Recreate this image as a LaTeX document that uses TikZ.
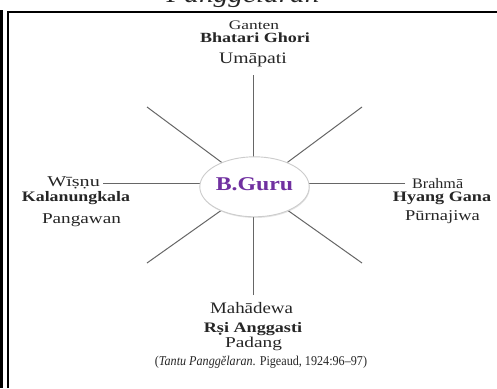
\documentclass[tikz,border=0pt]{standalone}
\usepackage{fontspec}
\setmainfont{Liberation Serif}
\usetikzlibrary{shapes.geometric,shadows,backgrounds}
\definecolor{gurupurple}{HTML}{7030A0}
\definecolor{txtgray}{HTML}{262626}
\newcommand{\fsz}[1]{\fontsize{#1}{#1}\selectfont}
\newcommand{\sx}[2]{\scalebox{#1}[1]{#2}}
\begin{document}
\begin{tikzpicture}[x=1pt,y=-1pt,
  lbl/.style={anchor=base,inner sep=0pt,text=txtgray},
  spoke/.style={draw=black!60,line width=1pt},
  centre/.style={ellipse,draw=black!20,line width=0.9pt,fill=white,
    minimum width=82pt,minimum height=60pt,inner sep=0pt,
    text height=11pt,text depth=4pt,
    drop shadow={opacity=0.2,shadow xshift=0.6pt,shadow yshift=-1.2pt}}]
\useasboundingbox (0,0) rectangle (497,388);
% title (cut off at the top)
\node[lbl] (title) at (243,2.5) {\fsz{24}\itshape\sx{1.22}{Panggĕlaran}};
% frame
\draw[line width=3pt] (1.6,10) -- (1.6,388);
\draw[line width=2pt] (8,388) -- (8,12) -- (497,12);
% centre
\node[centre] (guru) at (254.5,186.8) {\fsz{19.5}\bfseries\color{gurupurple}\sx{1.22}{B.Guru}};
% top
\node[lbl] (ganten) at (254,29.5) {\fsz{13}\sx{1.34}{Ganten}};
\node[lbl] (bhatari) at (255,42.3) {\fsz{14}\bfseries\sx{1.29}{Bhatari Ghori}};
\node[lbl] (umapati) at (253,63.3) {\fsz{16}\sx{1.23}{Umāpati}};
% left
\node[lbl,anchor=base east] (wisnu) at (100,186.7) {\fsz{15}\sx{1.34}{Wīṣṇu}};
\node[lbl] (kalan) at (76,201.7) {\fsz{14.5}\bfseries\sx{1.23}{Kalanungkala}};
\node[lbl] (pangawan) at (81.5,223) {\fsz{15}\sx{1.28}{Pangawan}};
% right
\node[lbl,anchor=base west] (brahma) at (412,188.3) {\fsz{14.5}\sx{1.11}{Brahmā}};
\node[lbl] (hyang) at (442,201.7) {\fsz{14.5}\bfseries\sx{1.25}{Hyang Gana}};
\node[lbl] (purna) at (442.5,220) {\fsz{15}\sx{1.23}{Pūrnajiwa}};
% bottom
\node[lbl] (mahadewa) at (251.5,313.3) {\fsz{16}\sx{1.18}{Mahādewa}};
\node[lbl] (rsi) at (253,332.3) {\fsz{14.5}\bfseries\sx{1.25}{Rṣi Anggasti}};
\node[lbl] (padang) at (253.5,347.3) {\fsz{15}\sx{1.29}{Padang}};
% caption
\node[lbl] (cap) at (261,365) {\fsz{13.5}\sx{0.9}{(\textit{Tantu Panggĕlaran}. Pigeaud, 1924:96–97)}};
% spoke ends
\coordinate (t) at (253,75);
\coordinate (b) at (253,295);
\coordinate (ul) at (147,107);
\coordinate (ur) at (362,107);
\coordinate (ll) at (147,263);
\coordinate (lr) at (362,263);
\coordinate (wl) at (103,183);
\coordinate (wr) at (405,183);
\begin{pgfonlayer}{background}
\fill[white] (0,0) rectangle (497,388);
\draw[spoke] (t) -- (t |- guru.center);
\draw[spoke] (b) -- (b |- guru.center);
\draw[spoke] (ul) -- (guru.center);
\draw[spoke] (ur) -- (guru.center);
\draw[spoke] (ll) -- (guru.center);
\draw[spoke] (lr) -- (guru.center);
\draw[spoke] (wl) -- (wl -| guru.center);
\draw[spoke] (wr) -- (wr -| guru.center);
\end{pgfonlayer}
\end{tikzpicture}
\end{document}
